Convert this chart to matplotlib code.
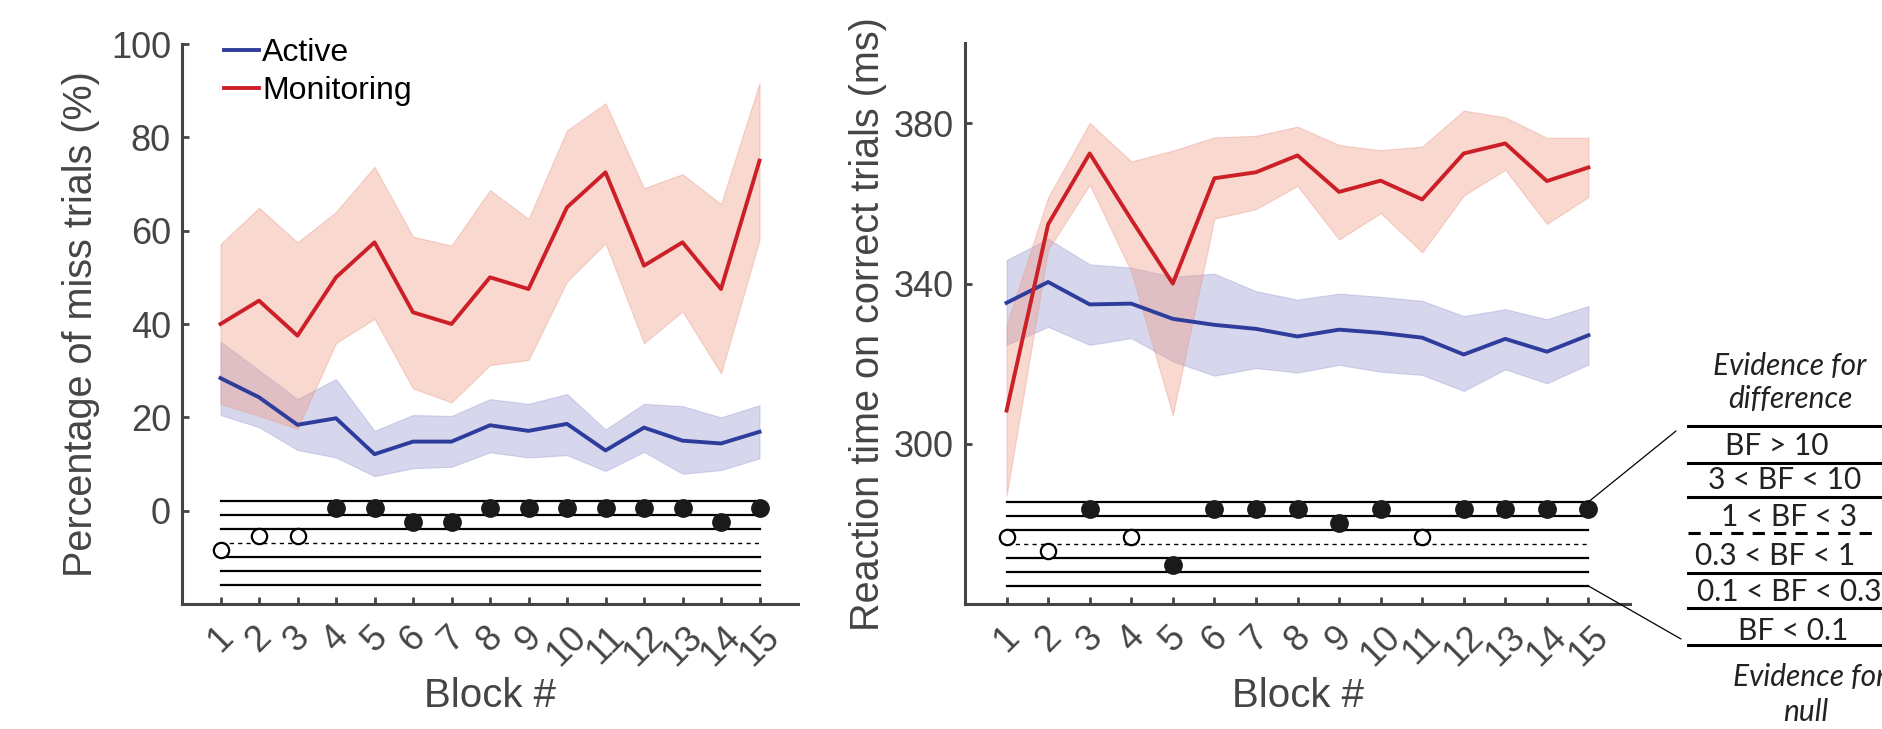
import numpy as np
import matplotlib.pyplot as plt
from matplotlib.lines import Line2D
from matplotlib.patches import ConnectionPatch

# blocks 1..15
blocks = list(range(1, 16))

# left panel: percentage of miss trials (%)
miss_active = [28.4, 24.3, 18.4, 19.8, 12.1, 14.8, 14.8, 18.3, 17.1, 18.6, 12.9, 17.8, 15.0, 14.4, 16.9]
miss_active_hi = [36.2, 30.1, 23.9, 28.2, 17.1, 20.5, 20.3, 23.9, 22.9, 25.0, 17.4, 22.9, 22.4, 20.0, 22.6]
miss_active_lo = [20.5, 17.9, 13.0, 11.4, 7.4, 9.1, 9.4, 12.5, 11.4, 11.9, 8.5, 12.6, 7.9, 8.7, 11.2]
miss_monit = [40.0, 45.0, 37.5, 50.0, 57.5, 42.5, 40.0, 50.0, 47.5, 65.0, 72.5, 52.5, 57.5, 47.5, 75.0]
miss_monit_hi = [57.1, 64.9, 57.5, 64.0, 73.7, 58.7, 56.8, 68.7, 62.5, 81.5, 87.3, 69.1, 72.1, 65.7, 91.6]
miss_monit_lo = [22.9, 20.3, 17.6, 35.9, 41.1, 26.2, 23.2, 31.2, 32.3, 49.1, 57.3, 35.9, 42.7, 29.4, 58.0]

# right panel: reaction time on correct trials (ms)
rt_active = [335.2, 340.4, 334.8, 335.0, 331.2, 329.7, 328.7, 326.8, 328.5, 327.7, 326.5, 322.3, 326.2, 323.0, 327.1]
rt_active_hi = [345.9, 351.2, 344.8, 344.0, 341.7, 342.5, 338.1, 336.0, 337.5, 336.7, 335.7, 331.9, 333.6, 331.1, 334.4]
rt_active_lo = [324.7, 329.2, 324.7, 326.4, 320.6, 317.0, 318.9, 317.8, 319.7, 318.0, 317.2, 313.2, 318.6, 315.1, 319.8]
rt_monit = [308.3, 354.8, 372.5, 356.0, 340.0, 366.3, 367.8, 372.0, 362.9, 365.7, 361.0, 372.5, 375.0, 365.6, 369.0]
rt_monit_hi = [329.7, 361.5, 380.1, 370.5, 373.2, 376.5, 376.9, 379.2, 374.6, 373.3, 374.2, 383.2, 381.5, 376.4, 376.4]
rt_monit_lo = [287.1, 348.5, 364.7, 343.0, 307.2, 356.2, 358.6, 364.4, 351.0, 357.6, 347.8, 362.0, 368.4, 354.9, 361.6]

# Bayes factor category per block: 0 = BF>10 ... 5 = BF<0.1
bf_labels = ["BF > 10", "3 < BF < 10", "1 < BF < 3", "0.3 < BF < 1", "0.1 < BF < 0.3", "BF < 0.1"]
bf_miss = [3, 2, 2, 0, 0, 1, 1, 0, 0, 0, 0, 0, 0, 1, 0]
bf_rt = [2, 3, 0, 2, 4, 0, 0, 0, 1, 0, 2, 0, 0, 0, 0]

W, H = 1883, 729
GREY = "#454545"
RED = "#CC1F27"
BLUE = "#2E3D9C"


def draw_panel(ax, act, act_hi, act_lo, mon, mon_hi, mon_lo, bf, top, step):
    ax.fill_between(blocks, act_lo, act_hi, facecolor="#8080C8", alpha=0.32,
                    edgecolor="#8C8CCC", lw=0.8)
    ax.plot(blocks, act, color=BLUE, lw=2.8, label="Active")
    ax.fill_between(blocks, mon_lo, mon_hi, facecolor="#EE9E88", alpha=0.4,
                    edgecolor="#E89888", lw=0.8)
    ax.plot(blocks, mon, color=RED, lw=2.8, label="Monitoring")

    # BF strip: 7 horizontal lines, dashed one in the middle
    for j in range(7):
        y = top - step * j
        if j == 3:
            ax.plot([1, 15], [y, y], color="k", lw=1.0, dashes=(3, 3))
        else:
            ax.plot([1, 15], [y, y], color="k", lw=1.6)
    for b, k in zip(blocks, bf):
        y = top - step * (k + 0.5)
        if k in (2, 3):
            ax.plot(b, y, "o", ms=11, mfc="white", mec="k", mew=1.6, zorder=5)
        else:
            ax.plot(b, y, "o", ms=12.5, mfc="#1a1a1a", mec="#1a1a1a", zorder=5)

    ax.set_xlim(0, 16)
    ax.set_xticks(blocks)
    ax.set_xticklabels([str(b) for b in blocks], rotation=45, ha="center")
    for s in ["top", "right"]:
        ax.spines[s].set_visible(False)
    for s in ["left", "bottom"]:
        ax.spines[s].set_linewidth(2.2)
        ax.spines[s].set_color(GREY)
    ax.tick_params(direction="in", length=5, width=2, colors=GREY, labelsize=26)
    ax.tick_params(axis="y", pad=8)
    ax.tick_params(axis="x", pad=11)
    ax.set_xlabel("Block #", fontsize=29, color=GREY)
    ax.xaxis.set_label_coords(0.5, -0.13)


plt.rcParams["font.family"] = ["Liberation Sans", "DejaVu Sans"]
fig = plt.figure(figsize=(W / 100, H / 100), dpi=100)

ax1 = fig.add_axes([182 / W, 125 / H, 616 / W, 560 / H])
draw_panel(ax1, miss_active, miss_active_hi, miss_active_lo,
           miss_monit, miss_monit_hi, miss_monit_lo, bf_miss, 2.0, 3.0)
ax1.set_ylim(-20, 100)
ax1.set_yticks([0, 20, 40, 60, 80, 100])
ax1.set_ylabel("Percentage of miss trials (%)", fontsize=28.5, color=GREY)
ax1.yaxis.set_label_coords(-0.133, 0.5)
ax1.legend(loc="upper left", bbox_to_anchor=(0.068, 1.01), frameon=False,
           fontsize=23, handlelength=1.1, handletextpad=0.1, labelspacing=0.25,
           borderpad=0, borderaxespad=0)

ax2 = fig.add_axes([965 / W, 125 / H, 665 / W, 560.7 / H])
draw_panel(ax2, rt_active, rt_active_hi, rt_active_lo,
           rt_monit, rt_monit_hi, rt_monit_lo, bf_rt, 285.5, 3.5)
ax2.set_ylim(260, 400)
ax2.set_yticks([300, 340, 380])
ax2.set_ylabel("Reaction time on correct trials (ms)", fontsize=28.5, color=GREY)
ax2.yaxis.set_label_coords(-0.118, 0.5)

# key for the BF strip, on the right
key_lines = [426, 463, 497, 533, 573, 608, 645]
for i, y in enumerate(key_lines):
    yf = 1 - y / H
    if i == 3:
        fig.add_artist(Line2D([1688 / W, 1876 / W], [yf, yf], transform=fig.transFigure,
                              color="k", lw=2.2, dashes=(4, 3)))
    else:
        fig.add_artist(Line2D([1688 / W, 1.0], [yf, yf], transform=fig.transFigure,
                              color="k", lw=2.2))

key_font = ["Lato", "DejaVu Sans"]
key_pos = [(1777, 446), (1785, 480), (1789, 517), (1775, 556), (1789, 592), (1793, 631)]
for lab, (x, y) in zip(bf_labels, key_pos):
    fig.text(x / W, 1 - y / H, lab, ha="center", va="center", fontsize=21.5,
             family=key_font, color="#222222")
for lab, (x, y) in [("Evidence for", (1790, 366)), ("difference", (1790, 399)),
                    ("Evidence for", (1810, 677)), ("null", (1806, 712))]:
    fig.text(x / W, 1 - y / H, lab, ha="center", va="center", fontsize=21.5,
             family=key_font, style="italic", color="#222222")

# connector lines from the strip to the key
for ya, pb in [(285.5, (1676, H - 431)), (285.5 - 3.5 * 6, (1681, H - 639))]:
    con = ConnectionPatch(xyA=(15, ya), coordsA=ax2.transData, xyB=pb,
                          coordsB="figure pixels", color="k", lw=0.9)
    fig.add_artist(con)

fig.savefig("out.png", dpi=100)
